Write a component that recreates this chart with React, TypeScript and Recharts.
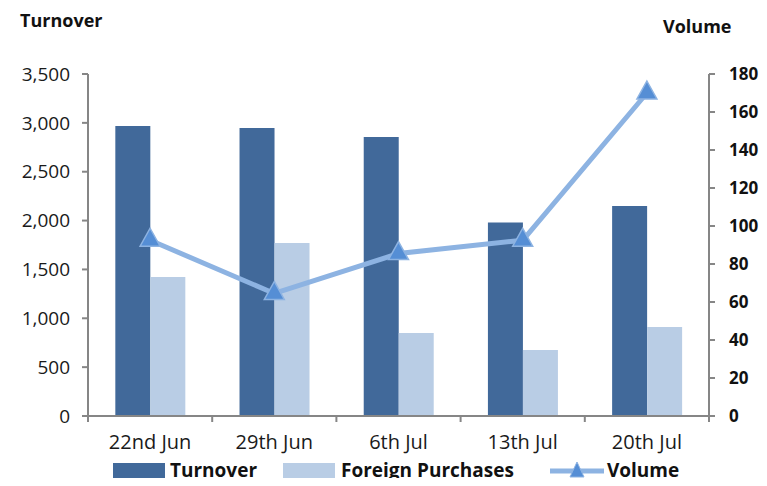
import React from 'react';
import {
  ComposedChart,
  Bar,
  Line,
  XAxis,
  YAxis,
} from 'recharts';

const weeks = ['22nd Jun', '29th Jun', '6th Jul', '13th Jul', '20th Jul'];
const turnover = [2968, 2948, 2856, 1980, 2150];
const foreignPurchases = [1423, 1771, 850, 676, 911];
const volume = [92.5, 64.5, 85.5, 92.5, 170];

const turnoverTicks = [0, 500, 1000, 1500, 2000, 2500, 3000, 3500];
const volumeTicks = [0, 20, 40, 60, 80, 100, 120, 140, 160, 180];

const chartData = weeks.map((week, i) => ({
  week,
  turnover: turnover[i],
  foreign: foreignPurchases[i],
  volume: volume[i],
}));

const W = 767;
const H = 486;
const LEFT_W = 88;
const RIGHT_W = 58;
const FONT = '"Open Sans", sans-serif';
const AXIS = '#868686';
const DARK = '#41699A';
const LIGHT = '#B9CDE5';
const LINE = '#8DB3E2';
const MARKER = '#558ED5';

const halfBand = (W - LEFT_W - RIGHT_W) / weeks.length / 2;

const CategoryTick = (props: any) => {
  const { x, y, payload, index } = props;
  const axisY = y - 8;
  return (
    <g>
      <line x1={x - halfBand} x2={x - halfBand} y1={axisY} y2={axisY + 6} stroke={AXIS} strokeWidth={2} />
      {index === weeks.length - 1 && (
        <line x1={x + halfBand} x2={x + halfBand} y1={axisY} y2={axisY + 6} stroke={AXIS} strokeWidth={2} />
      )}
      <text x={x} y={y + 25} textAnchor="middle" fontSize={20} fill="#1a1a1a" fontFamily={FONT}>
        {payload.value}
      </text>
    </g>
  );
};

const Triangle = (props: any) => {
  const { cx, cy } = props;
  if (cx == null || cy == null) return null;
  return (
    <path
      d={`M${cx},${cy - 12} L${cx + 10},${cy + 6} L${cx - 10},${cy + 6} Z`}
      fill={MARKER}
      stroke={LINE}
      strokeWidth={1.5}
    />
  );
};

const ChartLegend = () => (
  <div
    style={{
      position: 'absolute',
      left: 113,
      top: 458,
      height: 24,
      display: 'flex',
      alignItems: 'center',
      fontFamily: FONT,
      fontWeight: 700,
      fontSize: 19,
      lineHeight: '22px',
      color: '#111',
    }}
  >
    <span style={{ width: 52, height: 15, background: DARK, marginRight: 5 }} />
    <span style={{ marginRight: 26 }}>Turnover</span>
    <span style={{ width: 52, height: 15, background: LIGHT, marginRight: 6 }} />
    <span style={{ marginRight: 36 }}>Foreign Purchases</span>
    <svg width={54} height={20} style={{ marginRight: 3 }}>
      <line x1={0} x2={54} y1={11} y2={11} stroke={LINE} strokeWidth={5} />
      <path d="M27,2 L34,17 L20,17 Z" fill={MARKER} stroke={LINE} strokeWidth={1} />
    </svg>
    <span>Volume</span>
  </div>
);

export default function App() {
  return (
    <div style={{ position: 'relative', width: W, height: H, margin: -8, background: '#fff', overflow: 'hidden' }}>
      <div
        style={{
          position: 'absolute',
          left: 20,
          top: 8,
          fontFamily: FONT,
          fontWeight: 700,
          fontSize: 18,
          color: '#111',
        }}
      >
        Turnover
      </div>
      <div
        style={{
          position: 'absolute',
          left: 663,
          top: 14,
          fontFamily: FONT,
          fontWeight: 700,
          fontSize: 18,
          color: '#111',
        }}
      >
        Volume
      </div>
      <ComposedChart
        width={W}
        height={H}
        data={chartData}
        margin={{ top: 74, right: 0, bottom: 30, left: 0 }}
        barGap={0}
        barCategoryGap="22%"
      >
        <XAxis
          dataKey="week"
          height={40}
          axisLine={{ stroke: AXIS, strokeWidth: 2 }}
          tickLine={false}
          tickSize={6}
          tickMargin={2}
          tick={<CategoryTick />}
          interval={0}
        />
        <YAxis
          yAxisId="left"
          width={LEFT_W}
          domain={[0, 3500]}
          ticks={turnoverTicks}
          interval={0}
          tickFormatter={(v: number) => v.toLocaleString('en-US')}
          axisLine={{ stroke: AXIS, strokeWidth: 2 }}
          tickLine={{ stroke: AXIS, strokeWidth: 2 }}
          tickSize={6}
          tickMargin={12}
          tick={{ fontSize: 19, fill: '#1a1a1a', fontFamily: FONT }}
        />
        <YAxis
          yAxisId="right"
          orientation="right"
          width={RIGHT_W}
          domain={[0, 180]}
          ticks={volumeTicks}
          interval={0}
          axisLine={{ stroke: AXIS, strokeWidth: 2 }}
          tickLine={{ stroke: AXIS, strokeWidth: 2 }}
          tickSize={6}
          tickMargin={14}
          tick={{ fontSize: 17, fill: '#111', fontFamily: FONT, fontWeight: 700 }}
        />
        <Bar yAxisId="left" dataKey="turnover" name="Turnover" fill={DARK} isAnimationActive={false} />
        <Bar yAxisId="left" dataKey="foreign" name="Foreign Purchases" fill={LIGHT} isAnimationActive={false} />
        <Line
          yAxisId="right"
          dataKey="volume"
          name="Volume"
          stroke={LINE}
          strokeWidth={5}
          dot={<Triangle />}
          activeDot={false}
          isAnimationActive={false}
        />
      </ComposedChart>
      <ChartLegend />
    </div>
  );
}
